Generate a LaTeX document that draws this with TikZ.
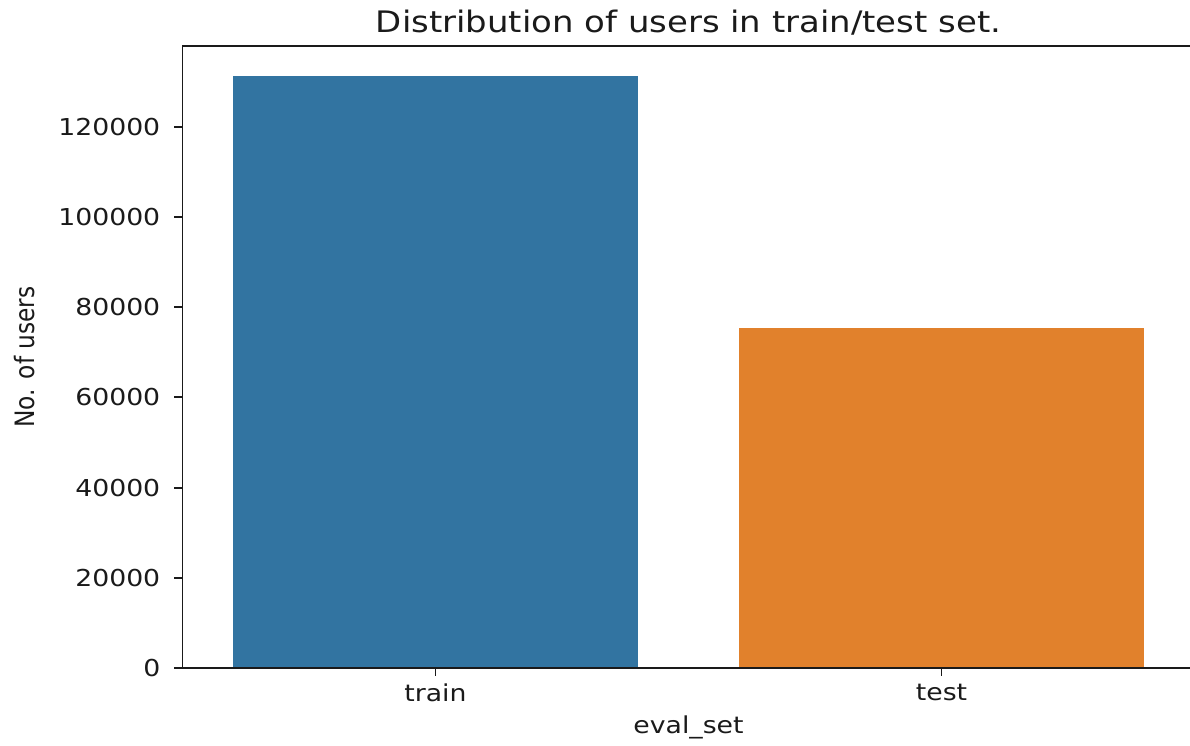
\documentclass[tikz,border=0pt]{standalone}
\usepackage{fontspec}
\usepackage{xcolor}
\setmainfont{DejaVu Sans}
\usetikzlibrary{positioning}
\definecolor{trainBlue}{HTML}{3274A1}
\definecolor{testOrange}{HTML}{E1812C}
\definecolor{inkColor}{HTML}{1A1A1A}

\begin{document}
\begin{tikzpicture}[x=1pt,y=1pt,
  axis/.style={inkColor, line width=1.9pt, line cap=rect},
  ticklbl/.style={inner sep=0pt, text=inkColor, xscale=1.146, transform shape, font=\fontsize{23.3}{27}\selectfont},
  titlelbl/.style={inner sep=0pt, text=inkColor, xscale=1.146, transform shape, font=\fontsize{29.6}{34}\selectfont},
]
\useasboundingbox (0,0) rectangle (1190,745);

% data units: one category per x, thousands of users per y
\begin{scope}[shift={(435.5,77)},x=506pt,y=4.51pt]
\fill [trainBlue] (-0.4,0) rectangle (0.4,131.3);
\fill [testOrange] (0.6,0) rectangle (1.4,75.4);

\draw [axis] (1.49,137.9) -- (-0.5,137.9) -- (-0.5,0) -- (1.49,0);

\foreach \v in {0,20,...,120} {
  \draw [axis, line cap=butt] (-0.5,\v) -- ++(-8.3pt,0);
  \node [ticklbl, anchor=east] (ytick\v) at (-0.5435,\v) {\ifnum\v=0 0\else\v000\fi};
}
\foreach \c/\name in {0/train,1/test} {
  \draw [axis, line cap=butt] (\c,0) -- ++(0,-8.3pt);
  \node [ticklbl, anchor=north] (xtick\name) at (\c,-3.55) {\name};
}

\node [titlelbl, anchor=base] (title) at (0.5,141.0) {Distribution of users in train/test set.};
\node [ticklbl, anchor=base] (xlabel) at (0.5,-14.6) {eval\_set};
\node [ticklbl, rotate=90] (ylabel) at (-0.8113,68.96) {No. of users};
\end{scope}
\end{tikzpicture}
\end{document}
